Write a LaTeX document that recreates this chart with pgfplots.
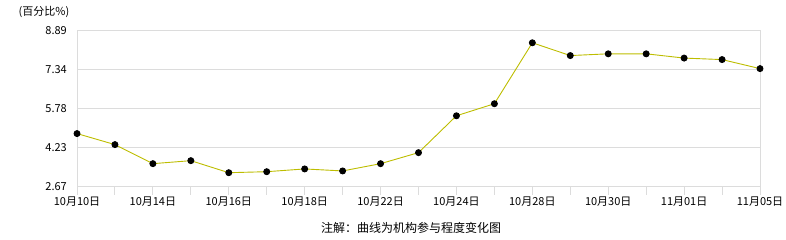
\documentclass[border=0pt]{standalone}
\usepackage{pgfplots}
\pgfplotsset{compat=1.18}
\usepackage{fontspec}
\setmainfont{Noto Sans CJK SC}
\definecolor{gridgray}{HTML}{DCDCDC}
\definecolor{linecol}{HTML}{BDBD00}
\begin{document}
\begin{tikzpicture}[x=1pt,y=1pt]
\useasboundingbox (0,0) rectangle (786,240);
\begin{axis}[
  at={(77pt,53pt)}, anchor=south west,
  scale only axis, width=683pt, height=156pt,
  xmin=0, xmax=18, ymin=2.67, ymax=8.89,
  xtick={0,...,18},
  xticklabels={10月10日,,10月14日,,10月16日,,10月18日,,10月22日,,10月24日,,10月28日,,10月30日,,11月01日,,11月05日},
  ytick={2.67,4.23,5.78,7.34,8.89},
  yticklabels={2.67,4.23,5.78,7.34,8.89},
  ymajorgrids,
  grid style={gridgray, line width=1pt},
  axis line style={gridgray, line width=1pt},
  xtick pos=bottom, tick align=outside,
  major tick length=8pt,
  xtick style={gridgray, line width=1pt},
  ytick style={draw=none},
  /pgf/number format/assume math mode=true,
  x tick label style={font=\fontsize{11}{11}\selectfont, inner sep=0pt, anchor=north, yshift=-2pt},
  y tick label style={font=\fontsize{11}{11}\selectfont, inner sep=0pt, anchor=east, xshift=-2pt},
  clip=false,
]
\addplot[linecol, line width=0.9pt, mark=*, mark size=3pt, mark options={fill=black, draw=black}]
coordinates {
(0,4.80) (1,4.36) (2,3.60) (3,3.72) (4,3.24) (5,3.28) (6,3.39) (7,3.31) (8,3.60) (9,4.04)
(10,5.51) (11,5.99) (12,8.42) (13,7.91) (14,7.98) (15,7.98) (16,7.81) (17,7.75) (18,7.39)
};
\end{axis}
\node[font=\fontsize{11}{11}\selectfont, inner sep=0pt] at (44,228) {(百分比\%)};
\node[font=\fontsize{12}{12}\selectfont, inner sep=0pt] at (411,12) {注解：曲线为机构参与程度变化图};
\end{tikzpicture}
\end{document}
